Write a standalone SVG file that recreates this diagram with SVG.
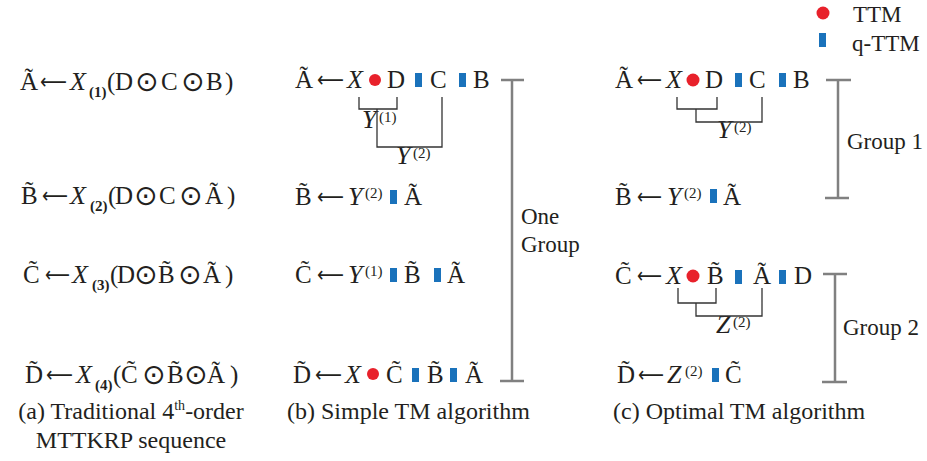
<svg xmlns="http://www.w3.org/2000/svg" width="927" height="461" viewBox="0 0 927 461">
<style>
text{font-family:"Liberation Serif","DejaVu Serif",serif;fill:#231f20}
.m{font-size:25px}
.ar{font-family:"DejaVu Sans",sans-serif;font-size:22px}
.op{font-family:"DejaVu Sans",sans-serif;font-size:28px}
.i{font-size:26px;font-style:italic}
.sb{font-size:15px;font-weight:bold}
.sp{font-size:15px}
.lab{font-size:23px}
.cap{font-size:24px}
.dot{fill:#e8212b}
.sq{fill:#1a72bb}
.grp{stroke:#808080;stroke-width:2.5;fill:none}
.br{stroke:#333;stroke-width:1.3;fill:none}
</style>
<rect width="927" height="461" fill="#fff"/>

<g id="legend">
<circle class="dot" cx="823" cy="13" r="6.5"/>
<text class="lab" x="853" y="22">TTM</text>
<rect class="sq" x="819" y="33" width="7" height="14"/>
<text class="lab" x="852" y="51">q-TTM</text>
</g>

<!-- (a) -->
<g id="a-row1">
<text class="m" x="20" y="90">Ã</text>
<text class="ar" x="40" y="89" textLength="27" lengthAdjust="spacingAndGlyphs">⟵</text>
<text class="i" x="70" y="90">X</text>
<text class="sb" x="89" y="97">(1)</text>
<text class="m" x="107" y="90">(</text>
<text class="m" x="115" y="90">D</text>
<text class="op" x="135" y="91">⊙</text>
<text class="m" x="161" y="90">C</text>
<text class="op" x="181" y="91">⊙</text>
<text class="m" x="206" y="90">B</text>
<text class="m" x="225" y="90">)</text>
</g>
<g id="a-row2">
<text class="m" x="21" y="204">B&#x303;</text>
<text class="ar" x="42" y="203" textLength="26" lengthAdjust="spacingAndGlyphs">⟵</text>
<text class="i" x="70" y="204">X</text>
<text class="sb" x="90" y="211">(2)</text>
<text class="m" x="108" y="204">(</text>
<text class="m" x="115" y="204">D</text>
<text class="op" x="134" y="205">⊙</text>
<text class="m" x="159" y="204">C</text>
<text class="op" x="179" y="205">⊙</text>
<text class="m" x="205" y="204">Ã</text>
<text class="m" x="227" y="204">)</text>
</g>
<g id="a-row3">
<text class="m" x="23" y="283">C&#x303;</text>
<text class="ar" x="45" y="282" textLength="25" lengthAdjust="spacingAndGlyphs">⟵</text>
<text class="i" x="72" y="283">X</text>
<text class="sb" x="92" y="290">(3)</text>
<text class="m" x="110" y="283">(</text>
<text class="m" x="117" y="283">D</text>
<text class="op" x="134" y="284">⊙</text>
<text class="m" x="158" y="283">B&#x303;</text>
<text class="op" x="178" y="284">⊙</text>
<text class="m" x="203" y="283">Ã</text>
<text class="m" x="225" y="283">)</text>
</g>
<g id="a-row4">
<text class="m" x="25" y="383">D&#x303;</text>
<text class="ar" x="46" y="382" textLength="27" lengthAdjust="spacingAndGlyphs">⟵</text>
<text class="i" x="76" y="383">X</text>
<text class="sb" x="95" y="390">(4)</text>
<text class="m" x="113" y="383">(</text>
<text class="m" x="121" y="383">C&#x303;</text>
<text class="op" x="142" y="384">⊙</text>
<text class="m" x="167" y="383">B&#x303;</text>
<text class="op" x="184" y="384">⊙</text>
<text class="m" x="207" y="383">Ã</text>
<text class="m" x="230" y="383">)</text>
</g>
<g id="a-caption">
<text class="cap" x="131" y="419" text-anchor="middle">(a) Traditional 4<tspan font-size="14" dy="-9">th</tspan><tspan dy="9">-order</tspan></text>
<text class="cap" x="131" y="448" text-anchor="middle">MTTKRP sequence</text>
</g>

<!-- (b) -->
<g id="b-row1">
<text class="m" x="295" y="88">Ã</text>
<text class="ar" x="317" y="87" textLength="27" lengthAdjust="spacingAndGlyphs">⟵</text>
<text class="i" x="347" y="88">X</text>
<circle class="dot" cx="375" cy="80" r="6"/>
<text class="m" x="387" y="88">D</text>
<rect class="sq" x="415" y="73" width="7" height="14"/>
<text class="m" x="430" y="88">C</text>
<rect class="sq" x="459" y="73" width="7" height="14"/>
<text class="m" x="473" y="88">B</text>
</g>
<g id="b-y1">
<text class="i" x="362" y="128">Y</text>
<text class="sp" x="379" y="122">(1)</text>
</g>
<g id="b-y2">
<text class="i" x="396" y="164">Y</text>
<text class="sp" x="413" y="158">(2)</text>
</g>
<g id="b-row2">
<text class="m" x="295" y="205">B&#x303;</text>
<text class="ar" x="317" y="204" textLength="27" lengthAdjust="spacingAndGlyphs">⟵</text>
<text class="i" x="348" y="205">Y</text>
<text class="sp" x="365" y="198">(2)</text>
<rect class="sq" x="390" y="190" width="7" height="14"/>
<text class="m" x="404" y="205">Ã</text>
</g>
<g id="b-row3">
<text class="m" x="295" y="283">C&#x303;</text>
<text class="ar" x="317" y="282" textLength="27" lengthAdjust="spacingAndGlyphs">⟵</text>
<text class="i" x="348" y="283">Y</text>
<text class="sp" x="365" y="276">(1)</text>
<rect class="sq" x="390" y="268" width="7" height="14"/>
<text class="m" x="404" y="283">B&#x303;</text>
<rect class="sq" x="434" y="268" width="7" height="14"/>
<text class="m" x="447" y="283">Ã</text>
</g>
<g id="b-row4">
<text class="m" x="293" y="383">D&#x303;</text>
<text class="ar" x="315" y="382" textLength="27" lengthAdjust="spacingAndGlyphs">⟵</text>
<text class="i" x="345" y="383">X</text>
<circle class="dot" cx="373" cy="374" r="6"/>
<text class="m" x="386" y="383">C&#x303;</text>
<rect class="sq" x="412" y="368" width="7" height="14"/>
<text class="m" x="427" y="383">B&#x303;</text>
<rect class="sq" x="450" y="368" width="7" height="14"/>
<text class="m" x="465" y="383">Ã</text>
</g>
<g id="b-group">
<text class="lab" x="521" y="224">One</text>
<text class="lab" x="521" y="252">Group</text>
</g>
<g id="b-caption">
<text class="cap" x="287" y="419">(b) Simple TM algorithm</text>
</g>

<!-- (c) -->
<g id="c-row1">
<text class="m" x="615" y="88">Ã</text>
<text class="ar" x="637" y="87" textLength="25" lengthAdjust="spacingAndGlyphs">⟵</text>
<text class="i" x="666" y="88">X</text>
<circle class="dot" cx="693" cy="80" r="6.5"/>
<text class="m" x="705" y="88">D</text>
<rect class="sq" x="735" y="73" width="7" height="14"/>
<text class="m" x="749" y="88">C</text>
<rect class="sq" x="779" y="73" width="7" height="14"/>
<text class="m" x="793" y="88">B</text>
</g>
<g id="c-y2">
<text class="i" x="717" y="138">Y</text>
<text class="sp" x="734" y="132">(2)</text>
</g>
<g id="c-row2">
<text class="m" x="615" y="205">B&#x303;</text>
<text class="ar" x="637" y="204" textLength="25" lengthAdjust="spacingAndGlyphs">⟵</text>
<text class="i" x="667" y="205">Y</text>
<text class="sp" x="684" y="198">(2)</text>
<rect class="sq" x="710" y="189" width="7" height="14"/>
<text class="m" x="723" y="205">Ã</text>
</g>
<g id="c-row3">
<text class="m" x="615" y="284">C&#x303;</text>
<text class="ar" x="637" y="283" textLength="25" lengthAdjust="spacingAndGlyphs">⟵</text>
<text class="i" x="666" y="284">X</text>
<circle class="dot" cx="693" cy="276" r="6.5"/>
<text class="m" x="707" y="284">B&#x303;</text>
<rect class="sq" x="735" y="270" width="7" height="14"/>
<text class="m" x="753" y="284">Ã</text>
<rect class="sq" x="779" y="270" width="7" height="14"/>
<text class="m" x="794" y="284">D</text>
</g>
<g id="c-z2">
<text class="i" x="716" y="333">Z</text>
<text class="sp" x="733" y="327">(2)</text>
</g>
<g id="c-row4">
<text class="m" x="617" y="383">D&#x303;</text>
<text class="ar" x="638" y="382" textLength="26" lengthAdjust="spacingAndGlyphs">⟵</text>
<text class="i" x="667" y="383">Z</text>
<text class="sp" x="685" y="376">(2)</text>
<rect class="sq" x="712" y="368" width="7" height="14"/>
<text class="m" x="725" y="383">C&#x303;</text>
</g>
<g id="c-groups">
<text class="lab" x="847" y="149">Group 1</text>
<text class="lab" x="843" y="335">Group 2</text>
</g>
<g id="c-caption">
<text class="cap" x="613" y="419">(c) Optimal TM algorithm</text>
</g>

<g id="connectors">
<path class="grp" d="M501 80H524M512 80V381M500 381H524"/>
<path class="grp" d="M826 80H851M838 80V198M825 198H849"/>
<path class="grp" d="M823 274H847M835 274V382M822 382H847"/>
<path class="br" d="M359 97V109H397V97M377 109V147H442V97"/>
<path class="br" d="M677 97V109H717V97M696 109V122H762V97"/>
<path class="br" d="M678 288V303H716V288M696 303V316H762V288"/>
</g>
</svg>
